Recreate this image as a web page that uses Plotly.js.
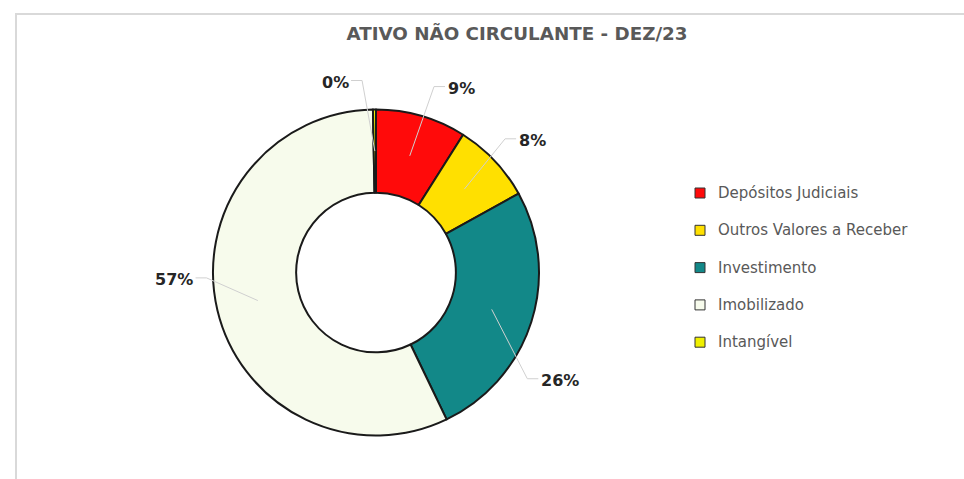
<!DOCTYPE html>
<html>
<head>
<meta charset="utf-8">
<script src="https://cdn.plot.ly/plotly-3.0.1.min.js"></script>
<style>
  html, body { margin: 0; padding: 0; background: #ffffff; }
  #chart { width: 964px; height: 479px; }
</style>
</head>
<body>
<div id="chart"></div>
<script>
// ---- data ----
const categories = ['Depósitos Judiciais', 'Outros Valores a Receber', 'Investimento', 'Imobilizado', 'Intangível'];
const values = [9, 8, 26, 57, 0.3];
const chartTitle = 'ATIVO NÃO CIRCULANTE - DEZ/23';

// ---- styles / layout settings ----
const colors = ['#FF0a0a', '#FFE000', '#128888', '#F7FBEC', '#F0F000'];
const W = 964, H = 479;
const pieGeom = { cx: 376, cy: 272.5, r: 163, hole: 0.49 };
const labelRadius = 205;
const labelNudge = [[28, 13], [7, 9], [-11, 46], [-3, -40], [-39, 15]];
const legendGeom = { x: 695, size: 10, textX: 716, y0: 193, step: 37.3 };
const fontFam = '"DejaVu Sans", "Open Sans", sans-serif';

const px = x => x / W;
const py = y => 1 - y / H;

const total = values.reduce((a, b) => a + b, 0);
const shapes = [];
const annotations = [];

// frame lines (chart area border)
shapes.push({ type: 'line', xref: 'paper', yref: 'paper', x0: px(15), x1: px(W), y0: py(14), y1: py(14), line: { color: '#d9d9d9', width: 2 } });
shapes.push({ type: 'line', xref: 'paper', yref: 'paper', x0: px(16), x1: px(16), y0: py(14), y1: py(H), line: { color: '#d9d9d9', width: 2 } });

// data labels with leader lines
let cum = 0;
values.forEach((v, i) => {
  const mid = (cum + v / 2) / total;
  cum += v;
  const th = mid * 2 * Math.PI;
  const pt = rr => [pieGeom.cx + rr * Math.sin(th), pieGeom.cy - rr * Math.cos(th)];
  const start = pt(pieGeom.r * (1 + pieGeom.hole) / 2);
  const base = pt(labelRadius);
  const lx = base[0] + labelNudge[i][0];
  const ly = base[1] + labelNudge[i][1];
  const txt = Math.round(v / total * 100) + '%';
  const halfW = txt.length * 6;
  const right = lx > pieGeom.cx;
  const endX = right ? lx - halfW - 4 : lx + halfW + 4;
  const elbowX = right ? lx - halfW - 15 : lx + halfW + 15;
  const lineY = ly - 2;
  shapes.push({
    type: 'path', xref: 'paper', yref: 'paper', layer: 'above',
    path: `M ${px(start[0])},${py(start[1])} L ${px(elbowX)},${py(lineY)} L ${px(endX)},${py(lineY)}`,
    line: { color: '#d0d0d0', width: 1 }
  });
  annotations.push({
    xref: 'paper', yref: 'paper', x: px(lx), y: py(ly), xanchor: 'center', yanchor: 'middle',
    text: txt, showarrow: false,
    font: { family: fontFam, size: 16, color: '#262626', weight: 'bold' }
  });
});

// legend (drawn manually for spacing)
categories.forEach((c, i) => {
  const y = legendGeom.y0 + i * legendGeom.step;
  const h = legendGeom.size / 2;
  shapes.push({
    type: 'rect', xref: 'paper', yref: 'paper',
    x0: px(legendGeom.x), x1: px(legendGeom.x + legendGeom.size), y0: py(y + h), y1: py(y - h),
    fillcolor: colors[i], line: { color: '#333333', width: 1 }
  });
  annotations.push({
    xref: 'paper', yref: 'paper', x: px(legendGeom.textX), y: py(y), xanchor: 'left', yanchor: 'middle',
    text: c, showarrow: false,
    font: { family: fontFam, size: 15, color: '#595959' }
  });
});

const trace = {
  type: 'pie',
  labels: categories,
  values: values,
  sort: false,
  direction: 'clockwise',
  rotation: 0,
  hole: pieGeom.hole,
  textinfo: 'none',
  hoverinfo: 'label+percent',
  showlegend: false,
  marker: { colors: colors, line: { color: '#1a1a1a', width: 2 } },
  domain: {
    x: [px(pieGeom.cx - pieGeom.r), px(pieGeom.cx + pieGeom.r)],
    y: [py(pieGeom.cy + pieGeom.r), py(pieGeom.cy - pieGeom.r)]
  }
};

const layout = {
  width: W, height: H,
  margin: { l: 0, r: 0, t: 0, b: 0 },
  paper_bgcolor: '#ffffff',
  plot_bgcolor: '#ffffff',
  showlegend: false,
  title: {
    text: chartTitle,
    x: px(517), y: py(34), xanchor: 'center', yanchor: 'middle',
    font: { family: fontFam, size: 18.3, color: '#595959', weight: 'bold' }
  },
  shapes: shapes,
  annotations: annotations
};

Plotly.newPlot('chart', [trace], layout, { displayModeBar: false, staticPlot: true });
</script>
</body>
</html>
